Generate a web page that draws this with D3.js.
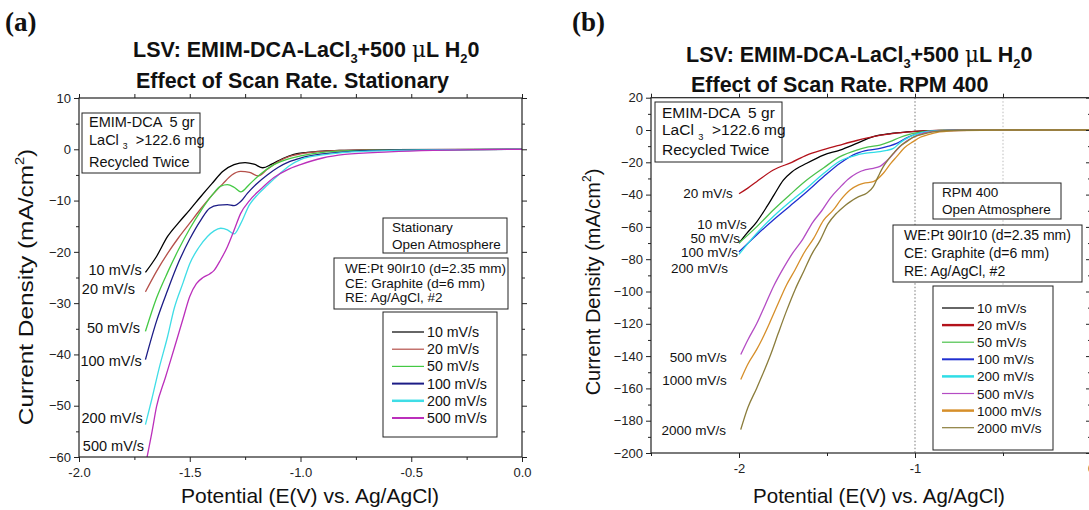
<!DOCTYPE html>
<html><head><meta charset="utf-8">
<script src="https://cdn.jsdelivr.net/npm/d3@7"></script>
<style>
body{margin:0;background:#fff;}
svg{display:block;font-family:"Liberation Sans",Arial,sans-serif;}
</style></head><body>
<svg id="chart" width="1089" height="510"></svg>
<script>
// ---------------- DATA : panel (a) Stationary ----------------
const ratesA = ["10 mV/s","20 mV/s","50 mV/s","100 mV/s","200 mV/s","500 mV/s"];
const a10 = [[-1.70,-24.0],[-1.65,-20.9],[-1.60,-17.0],[-1.55,-14.3],[-1.50,-11.8],[-1.45,-9.2],[-1.40,-6.7],[-1.35,-4.3],[-1.30,-3.0],[-1.25,-2.6],[-1.21,-2.9],[-1.17,-3.6],[-1.13,-2.9],[-1.08,-1.8],[-1.03,-1.0],[-0.97,-0.6],[-0.90,-0.35],[-0.80,-0.2],[-0.60,-0.05],[0,0]];
const a20 = [[-1.70,-27.8],[-1.65,-23.8],[-1.60,-20.3],[-1.55,-17.2],[-1.50,-14.4],[-1.45,-11.6],[-1.40,-9.0],[-1.35,-6.7],[-1.31,-5.0],[-1.27,-4.3],[-1.23,-4.5],[-1.19,-5.2],[-1.15,-3.9],[-1.10,-2.4],[-1.05,-1.4],[-1.00,-0.9],[-0.90,-0.4],[-0.80,-0.2],[-0.60,-0.05],[0,0]];
const a50 = [[-1.70,-35.5],[-1.65,-29.0],[-1.60,-24.0],[-1.55,-19.5],[-1.50,-15.5],[-1.45,-12.0],[-1.40,-9.0],[-1.36,-7.2],[-1.33,-6.9],[-1.30,-7.4],[-1.27,-8.3],[-1.23,-6.8],[-1.18,-4.8],[-1.12,-3.0],[-1.05,-1.8],[-1.00,-1.3],[-0.90,-0.6],[-0.80,-0.3],[-0.60,-0.1],[0,0]];
const a100 = [[-1.70,-41.0],[-1.65,-33.5],[-1.60,-27.5],[-1.55,-22.0],[-1.50,-17.5],[-1.45,-13.8],[-1.41,-11.5],[-1.37,-10.9],[-1.33,-10.8],[-1.30,-11.0],[-1.27,-10.2],[-1.24,-8.6],[-1.20,-6.8],[-1.15,-5.0],[-1.10,-3.5],[-1.05,-2.4],[-1.00,-1.7],[-0.90,-0.9],[-0.80,-0.5],[-0.60,-0.15],[0,0]];
const a200 = [[-1.70,-53.7],[-1.67,-48.5],[-1.64,-43.0],[-1.60,-36.5],[-1.57,-31.0],[-1.53,-26.0],[-1.50,-22.3],[-1.46,-19.2],[-1.42,-17.0],[-1.39,-15.9],[-1.36,-15.4],[-1.33,-15.7],[-1.30,-16.5],[-1.27,-14.5],[-1.23,-10.8],[-1.19,-8.7],[-1.15,-7.0],[-1.10,-5.0],[-1.05,-3.2],[-1.00,-2.0],[-0.90,-1.1],[-0.80,-0.6],[-0.60,-0.25],[-0.30,-0.05],[0,0]];
const a500 = [[-1.695,-60.5],[-1.67,-55.0],[-1.65,-50.2],[-1.61,-44.5],[-1.57,-38.8],[-1.53,-33.0],[-1.50,-28.7],[-1.47,-26.2],[-1.44,-25.0],[-1.41,-24.3],[-1.39,-23.6],[-1.36,-21.5],[-1.33,-19.0],[-1.30,-15.8],[-1.27,-12.5],[-1.23,-10.0],[-1.18,-7.8],[-1.12,-5.5],[-1.06,-4.0],[-1.00,-3.0],[-0.90,-1.7],[-0.80,-1.0],[-0.60,-0.5],[-0.40,-0.2],[-0.20,-0.05],[0,0]];
const seriesA = [a10,a20,a50,a100,a200,a500];
const colorsA = ["#000000","#b5504a","#44c944","#1c1c86","#3fdde6","#bb2fbb"];
const labelPosA = [[-1.717,-24.5],[-1.747,-28.2],[-1.724,-35.75],[-1.717,-42.2],[-1.712,-53.3],[-1.706,-58.75]];
const xTicksA = [-2,-1.5,-1,-0.5,0];
const xTickLabelsA = ["-2.0","-1.5","-1.0","-0.5","0.0"];
const xMinorA = [-1.75,-1.25,-0.75,-0.25];
const yTicksA = [10,0,-10,-20,-30,-40,-50,-60];
const yMinorA = [5,-5,-15,-25,-35,-45,-55];

// ---------------- DATA : panel (b) RPM 400 ----------------
const ratesB = ["10 mV/s","20 mV/s","50 mV/s","100 mV/s","200 mV/s","500 mV/s","1000 mV/s","2000 mV/s"];
const b10 = [[-2.0,-70],[-1.956,-64],[-1.90,-57],[-1.842,-47.5],[-1.80,-40],[-1.748,-31],[-1.70,-26],[-1.615,-20.6],[-1.52,-15.5],[-1.426,-12.4],[-1.331,-8.3],[-1.237,-4.1],[-1.14,-2.2],[-1.047,-1.2],[-0.95,-0.5],[-0.85,-0.2],[-0.5,0],[0,0]];
const b20 = [[-2.0,-39.5],[-1.95,-36],[-1.90,-32],[-1.805,-24.8],[-1.70,-20],[-1.615,-15.5],[-1.52,-12.2],[-1.426,-9.3],[-1.331,-6.5],[-1.237,-4.1],[-1.14,-2.4],[-1.047,-1.3],[-0.95,-0.6],[-0.86,-0.3],[-0.7,-0.1],[0,0]];
const b50 = [[-2.0,-70],[-1.90,-60],[-1.805,-49.5],[-1.71,-40],[-1.615,-31],[-1.52,-23.5],[-1.426,-16.5],[-1.331,-12.4],[-1.265,-10.5],[-1.199,-9.3],[-1.142,-7.2],[-1.09,-4.8],[-1.047,-3.1],[-0.95,-1.0],[-0.85,-0.3],[-0.7,-0.1],[0,0]];
const b100 = [[-2.0,-75.5],[-1.90,-65],[-1.805,-55.7],[-1.71,-47],[-1.615,-38.2],[-1.52,-29],[-1.426,-20.6],[-1.331,-14.5],[-1.265,-12.5],[-1.199,-11.4],[-1.15,-10],[-1.104,-8.3],[-1.05,-5],[-1.01,-3.1],[-0.93,-1.0],[-0.85,-0.4],[-0.7,-0.1],[0,0]];
const b200 = [[-2.0,-77],[-1.90,-64],[-1.805,-53.6],[-1.71,-44.5],[-1.615,-36.1],[-1.52,-27],[-1.426,-19.2],[-1.331,-15.5],[-1.265,-14.2],[-1.199,-13.4],[-1.16,-12.6],[-1.123,-11.4],[-1.08,-7.5],[-1.028,-4.1],[-0.97,-1.8],[-0.9,-0.7],[-0.8,-0.2],[0,0]];
const b500 = [[-1.99,-139],[-1.95,-130],[-1.90,-120],[-1.85,-108],[-1.80,-96],[-1.75,-86],[-1.70,-77],[-1.64,-68],[-1.58,-57],[-1.53,-50],[-1.48,-42],[-1.426,-35.5],[-1.38,-30.5],[-1.331,-26.8],[-1.28,-24.6],[-1.237,-23.7],[-1.199,-22.5],[-1.15,-18],[-1.104,-12.4],[-1.05,-7],[-1.01,-4.5],[-0.95,-2.0],[-0.88,-0.8],[-0.8,-0.3],[-0.6,-0.05],[0,0]];
const b1000 = [[-1.99,-154.5],[-1.95,-145],[-1.90,-136],[-1.871,-130],[-1.82,-118],[-1.777,-107.3],[-1.73,-96],[-1.682,-86.7],[-1.63,-76],[-1.575,-67],[-1.52,-56],[-1.464,-49.5],[-1.42,-43],[-1.369,-37.2],[-1.32,-34],[-1.294,-33],[-1.237,-32],[-1.18,-26.8],[-1.14,-21],[-1.104,-16.5],[-1.06,-11],[-1.01,-7.2],[-0.97,-4.5],[-0.93,-3.0],[-0.86,-1.2],[-0.75,-0.3],[-0.5,0],[0,0]];
const b2000 = [[-1.99,-185.5],[-1.95,-172],[-1.90,-160],[-1.871,-152.7],[-1.82,-139],[-1.777,-125.9],[-1.73,-112],[-1.682,-99],[-1.63,-87],[-1.587,-77],[-1.54,-68.5],[-1.493,-58],[-1.45,-52],[-1.426,-49.5],[-1.40,-47],[-1.369,-44.5],[-1.32,-41.3],[-1.275,-39.2],[-1.237,-35.1],[-1.21,-29],[-1.18,-22.7],[-1.15,-18],[-1.123,-14.5],[-1.085,-10],[-1.047,-7.2],[-1.00,-4.0],[-0.97,-3.0],[-0.9,-1.2],[-0.8,-0.3],[-0.6,0],[0,0]];
const seriesB = [b10,b20,b50,b100,b200,b500,b1000,b2000];
const colorsB = ["#000000","#b3121b","#4cc24c","#1f2fd0","#2fdde6","#b44cc4","#d68f2a","#8b7d3c"];
const labelPosB = [[-1.956,-61.5],[-2.036,-42.1],[-1.994,-69.7],[-2.006,-78.8],[-2.062,-88.5],[-2.07,-143.7],[-2.07,-158],[-2.074,-189]];
const xTicksB = [-2,-1,0];
const xTickLabelsB = ["-2","-1","0"];
const xMinorB = [-2.5,-1.5,-0.5];
const gridB = [-1,-0.5];
const yTicksB = [20,0,-20,-40,-60,-80,-100,-120,-140,-160,-180,-200];
const yMinorB = [10,-10,-30,-50,-70,-90,-110,-130,-150,-170,-190];

// ---------------- DRAWING ----------------
const svg = d3.select("#chart");
const TXT = "#111";

function subText(sel, parts, x, y, size, weight, anchor){
  const t = sel.append("text").attr("x",x).attr("y",y).attr("font-size",size)
    .attr("font-weight",weight||"normal").attr("fill",TXT).attr("text-anchor",anchor||"start")
    .attr("xml:space","preserve");
  parts.forEach(p=>{
    const ts = t.append("tspan").text(p.t);
    if(p.sub){ ts.attr("font-size",size*0.6).attr("dy",size*0.3); }
    else if(p.sup){ ts.attr("font-size",size*0.6).attr("dy",-size*0.45); }
    else if(p.back){ ts.attr("dy",p.back); }
    if(p.font) ts.attr("font-family",p.font).attr("font-weight","normal");
  });
  return t;
}

const TS = 21.5;
function titleParts(){
  return [{t:"LSV: EMIM-DCA-LaCl"},{t:"3",sub:true},{t:"+500 ",back:-TS*0.3},{t:"μ",font:"DejaVu Serif"},{t:"L H"},{t:"2",sub:true},{t:"0",back:-TS*0.3}];
}

function box(sel,x,y,w,h){
  sel.append("rect").attr("x",x).attr("y",y).attr("width",w).attr("height",h)
    .attr("fill","#fff").attr("stroke","#222").attr("stroke-width",1);
}

function panel(cfg){
  const g = svg.append("g");
  const x = d3.scaleLinear().domain(cfg.xDom).range(cfg.xRange);
  const y = d3.scaleLinear().domain(cfg.yDom).range(cfg.yRange);
  const [x0,x1] = cfg.xRange, [y0,y1] = [cfg.yRange[1], cfg.yRange[0]];

  (cfg.grid||[]).forEach((v,i)=>{
    g.append("line").attr("x1",x(v)).attr("x2",x(v)).attr("y1",y0).attr("y2",y1)
      .attr("stroke", i===0?"#777":"#bbb").attr("stroke-width",1).attr("stroke-dasharray","1.5,2");
  });

  const clipId = "clip"+cfg.id;
  g.append("clipPath").attr("id",clipId).append("rect")
    .attr("x",x0).attr("y",y0).attr("width",x1-x0).attr("height",y1-y0);

  const line = d3.line().x(d=>x(d[0])).y(d=>y(d[1])).curve(d3.curveMonotoneX);
  const curves = g.append("g").attr("clip-path",`url(#${clipId})`);
  cfg.series.forEach((s,i)=>{
    curves.append("path").datum(s).attr("d",line).attr("fill","none")
      .attr("stroke",cfg.colors[i]).attr("stroke-width",1.3);
  });

  const tickStyle = a=>{ a.select(".domain").remove(); a.selectAll("line").attr("stroke","#222"); a.selectAll("text").attr("fill","#222").attr("font-size",cfg.tickFont).attr("font-family","Liberation Sans, Arial, sans-serif"); };
  g.append("g").attr("transform",`translate(0,${y1})`)
    .call(d3.axisBottom(x).tickValues(cfg.xTicks).tickSize(5).tickPadding(6).tickFormat((d,i)=>cfg.xTickLabels[i])).call(tickStyle);
  g.append("g").attr("transform",`translate(0,${y1})`)
    .call(d3.axisBottom(x).tickValues(cfg.xMinor).tickSize(3).tickFormat("")).call(tickStyle);
  g.append("g").attr("transform",`translate(0,${y0})`)
    .call(d3.axisBottom(x).tickValues(cfg.xTicks.concat(cfg.xMinor)).tickSize(cfg.topTick).tickFormat("")).call(tickStyle);
  g.append("g").attr("transform",`translate(${x0},0)`)
    .call(d3.axisLeft(y).tickValues(cfg.yTicks).tickSize(5).tickPadding(3).tickFormat(d3.format("d"))).call(tickStyle);
  g.append("g").attr("transform",`translate(${x0},0)`)
    .call(d3.axisLeft(y).tickValues(cfg.yMinor).tickSize(3).tickFormat("")).call(tickStyle);
  g.append("g").attr("transform",`translate(${x1},0)`)
    .call(d3.axisRight(y).tickValues(cfg.yTicks).tickSize(cfg.rightTick).tickFormat("")).call(tickStyle);
  g.append("g").attr("transform",`translate(${x1},0)`)
    .call(d3.axisRight(y).tickValues(cfg.yMinor).tickSize(cfg.rightTick*0.6).tickFormat("")).call(tickStyle);

  g.append("rect").attr("x",x0).attr("y",y0).attr("width",x1-x0).attr("height",y1-y0)
    .attr("fill","none").attr("stroke","#222").attr("stroke-width",1.2);

  // curve labels
  cfg.labelPos.forEach((p,i)=>{
    g.append("text").attr("x",x(p[0])).attr("y",y(p[1])).attr("text-anchor","end")
      .attr("font-size",cfg.fLab).attr("fill",TXT).text(cfg.rates[i]);
  });

  // axis titles
  g.append("text").attr("x",cfg.xLabelX).attr("y",503).attr("text-anchor","middle")
    .attr("font-size",cfg.xLabFont).attr("fill",TXT).text("Potential (E(V) vs. Ag/AgCl)");
  subText(g,[{t:"Current Density (mA/cm"},{t:"2",sup:true},{t:")",back:20*0.45}],0,0,20,"normal","middle")
    .attr("transform",`translate(${cfg.yLabelX},${cfg.yLabelY}) rotate(-90) scale(${cfg.yLabScale},1)`);

  // titles
  subText(g,titleParts(),cfg.t1x,cfg.t1y,TS,"bold");
  g.append("text").attr("x",cfg.t2x).attr("y",cfg.t2y).attr("font-size",TS).attr("font-weight","bold")
    .attr("fill",TXT).text(cfg.title2);
  g.append("text").attr("x",cfg.tagX).attr("y",31).attr("font-size",27).attr("font-weight","bold")
    .attr("font-family","Liberation Serif, Times New Roman, serif").attr("fill",TXT).text(cfg.tag);

  // info box 1
  const b1 = cfg.box1, f1 = cfg.fBox1;
  box(g,b1[0],b1[1],b1[2],b1[3]);
  g.append("text").attr("x",b1[0]+7).attr("y",b1[1]+cfg.b1lines[0]).attr("font-size",f1).attr("fill",TXT).attr("xml:space","preserve").text("EMIM-DCA  5 gr");
  subText(g,[{t:"LaCl "},{t:"3",sub:true},{t:"  >122.6 mg",back:-f1*0.3}],b1[0]+7,b1[1]+cfg.b1lines[1],f1,"normal");
  g.append("text").attr("x",b1[0]+7).attr("y",b1[1]+cfg.b1lines[2]).attr("font-size",f1).attr("fill",TXT).text("Recycled Twice");

  // box 2
  const b2 = cfg.box2;
  box(g,b2[0],b2[1],b2[2],b2[3]);
  cfg.box2Text.forEach((t,i)=>{
    g.append("text").attr("x",b2[0]+9).attr("y",b2[1]+14+i*cfg.b2gap).attr("font-size",cfg.fBox2).attr("fill",TXT).text(t);
  });
  // box 3
  const b3 = cfg.box3;
  box(g,b3[0],b3[1],b3[2],b3[3]);
  ["WE:Pt 90Ir10 (d=2.35 mm)","CE: Graphite (d=6 mm)","RE: Ag/AgCl, #2"].forEach((t,i)=>{
    g.append("text").attr("x",b3[0]+11).attr("y",b3[1]+15+i*cfg.b3gap).attr("font-size",cfg.fBox3).attr("fill",TXT).text(t);
  });
  // legend
  const L = cfg.legend;
  box(g,L[0],L[1],L[2],L[3]);
  cfg.rates.forEach((r,i)=>{
    const yy = L[1]+cfg.legTop+i*cfg.legGap;
    g.append("line").attr("x1",L[0]+9).attr("x2",L[0]+41).attr("y1",yy).attr("y2",yy)
      .attr("stroke",cfg.colors[i]).attr("stroke-width",cfg.legW[i]);
    g.append("text").attr("x",L[0]+44).attr("y",yy+5).attr("font-size",cfg.fLeg).attr("fill",TXT).text(r);
  });
}

panel({
  id:"A", xDom:[-2,0], xRange:[79,522], yDom:[-60,10], yRange:[457,98],
  series:seriesA, colors:colorsA, rates:ratesA, labelPos:labelPosA,
  xTicks:xTicksA, xTickLabels:xTickLabelsA, xMinor:xMinorA, yTicks:yTicksA, yMinor:yMinorA,
  topTick:-4, rightTick:5, tickFont:13,
  fLab:14.5, fBox1:14.5, fBox2:13.5, fBox3:13.5, fLeg:14.2,
  xLabelX:310, xLabFont:21, yLabelX:33, yLabelY:287, yLabScale:1.22,
  t1x:133, t1y:57, t2x:136, t2y:88, title2:"Effect of Scan Rate. Stationary", tag:"(a)", tagX:5,
  box1:[82,113,118,60], b1lines:[14,32,54],
  box2:[383,218,124,35], box2Text:["Stationary","Open Atmosphere"], b2gap:17,
  box3:[334,258,174,51], b3gap:14.5,
  legend:[383,312,114,125], legTop:20, legGap:17.2, legW:[1.2,1.2,1.2,2,2.5,2]
});

panel({
  id:"B", xDom:[-2.5,0], xRange:[651,1091], yDom:[-200,20], yRange:[453,97.7],
  series:seriesB, colors:colorsB, rates:ratesB, labelPos:labelPosB,
  xTicks:xTicksB, xTickLabels:xTickLabelsB, xMinor:xMinorB, yTicks:yTicksB, yMinor:yMinorB,
  grid:gridB,
  topTick:-4, rightTick:-5, tickFont:13,
  fLab:13.5, fBox1:15.5, fBox2:13.5, fBox3:14, fLeg:13.5,
  xLabelX:879, xLabFont:20.5, yLabelX:600, yLabelY:282, yLabScale:1,
  t1x:686, t1y:62, t2x:691, t2y:92, title2:"Effect of Scan Rate. RPM 400", tag:"(b)", tagX:572,
  box1:[655,102,127,60], b1lines:[16,33,53],
  box2:[933,183,128,36], box2Text:["RPM 400","Open Atmosphere"], b2gap:17,
  box3:[893,225,189,57], b3gap:18,
  legend:[933,286,120,164], legTop:22, legGap:17.1, legW:[1.2,2.4,1.2,2,2.5,1.2,2.5,1.2]
});
</script>
</body></html>
